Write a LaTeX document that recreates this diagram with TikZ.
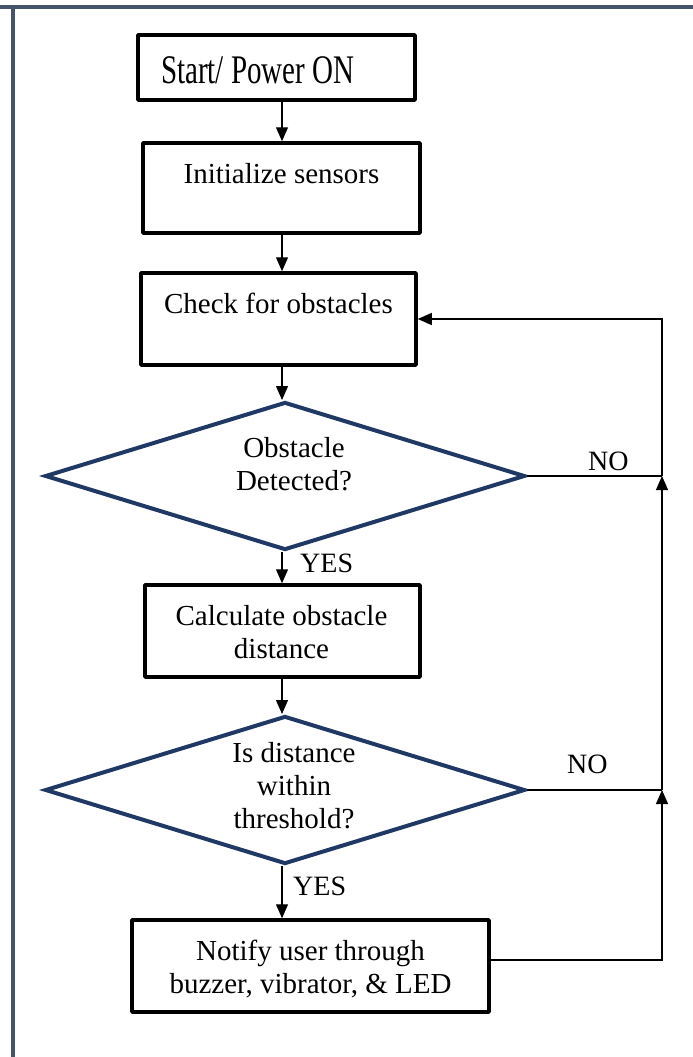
\documentclass[tikz,border=0pt]{standalone}
\usepackage{graphicx}
\usepackage{fontspec}
\setmainfont{Liberation Serif}
\usetikzlibrary{shapes.geometric,arrows.meta}
\definecolor{framec}{RGB}{68,84,106}
\definecolor{navy}{RGB}{31,56,100}
\tikzset{
  box/.style={draw=black, line width=3.5pt, rectangle, inner sep=0pt, line join=round},
  dia/.style={draw=navy, line width=4pt, diamond, inner sep=0pt, minimum width=480pt, minimum height=148pt},
  txt/.style={font=\fontsize{29}{33}\selectfont, align=center, inner sep=0pt, anchor=base},
  lbl/.style={font=\fontsize{28}{33}\selectfont, inner sep=0pt, anchor=base west},
  conn/.style={draw=black, line width=1.2pt},
  arr/.style={conn, -{Triangle[width=12pt,length=14pt]}},
  framel/.style={draw=framec, line width=4pt}
}
\begin{document}
\begin{tikzpicture}[x=1pt,y=-1pt]
\useasboundingbox (0,0) rectangle (693,1057);
% frame
\draw[framel] (0,7) -- (693,7);
\draw[framel] (13,7) -- (13,1057);
\coordinate (col) at (282,0);
% boxes
\node[box, minimum width=277pt, minimum height=65pt] (start) at (276.5,67.5) {};
\node[txt, anchor=base west] (startt) at (161,83) {\scalebox{1}[1.4]{Start/ Power ON}};
\node[box, minimum width=277pt, minimum height=90pt] (init) at (281.5,188) {};
\node[txt] (initt) at (281.5,183) {Initialize sensors};
\node[box, minimum width=275pt, minimum height=92pt] (check) at (278.5,319) {};
\node[txt] (checkt) at (278.5,313) {Check for obstacles};
\node[dia] (d1) at (285,476) {};
\node[txt] (d1t) at (294,490) {Obstacle\\Detected?};
\node[box, minimum width=275pt, minimum height=92pt] (calc) at (282.5,631) {};
\node[txt] (calct) at (281.5,658) {Calculate obstacle\\distance};
\node[dia] (d2) at (285,790) {};
\node[txt] (d2t) at (294,828) {Is distance\\within\\threshold?};
\node[box, minimum width=357pt, minimum height=92pt] (notify) at (310.5,966) {};
\node[txt] (notifyt) at (310.5,993) {Notify user through\\buzzer, vibrator, \& LED};
% labels
\node[lbl] (yes1) at (300,572) {YES};
\node[lbl] (yes2) at (293,895) {YES};
\node[lbl] (no1) at (588,470) {NO};
\node[lbl] (no2) at (567,773) {NO};
% junctions
\coordinate (j1) at (662,476);
\coordinate (j2) at (662,790);
% connectors
\draw[arr] (start.south -| col) -- (init.north -| col);
\draw[arr] (init.south -| col) -- (check.north -| col);
\draw[arr] (check.south -| col) -- (d1.north -| col);
\draw[arr] (d1.south -| col) -- (calc.north -| col);
\draw[arr] (calc.south -| col) -- (d2.north -| col);
\draw[arr] (d2.south -| col) -- (notify.north -| col);
\draw[arr] ([yshift=6pt]notify.east) -| (j2);
\draw[conn] (d2.east) -- (j2);
\draw[arr] (j2) -- (j1);
\draw[conn] (d1.east) -- (j1);
\draw[arr] (j1) |- (check.east);
\end{tikzpicture}
\end{document}
